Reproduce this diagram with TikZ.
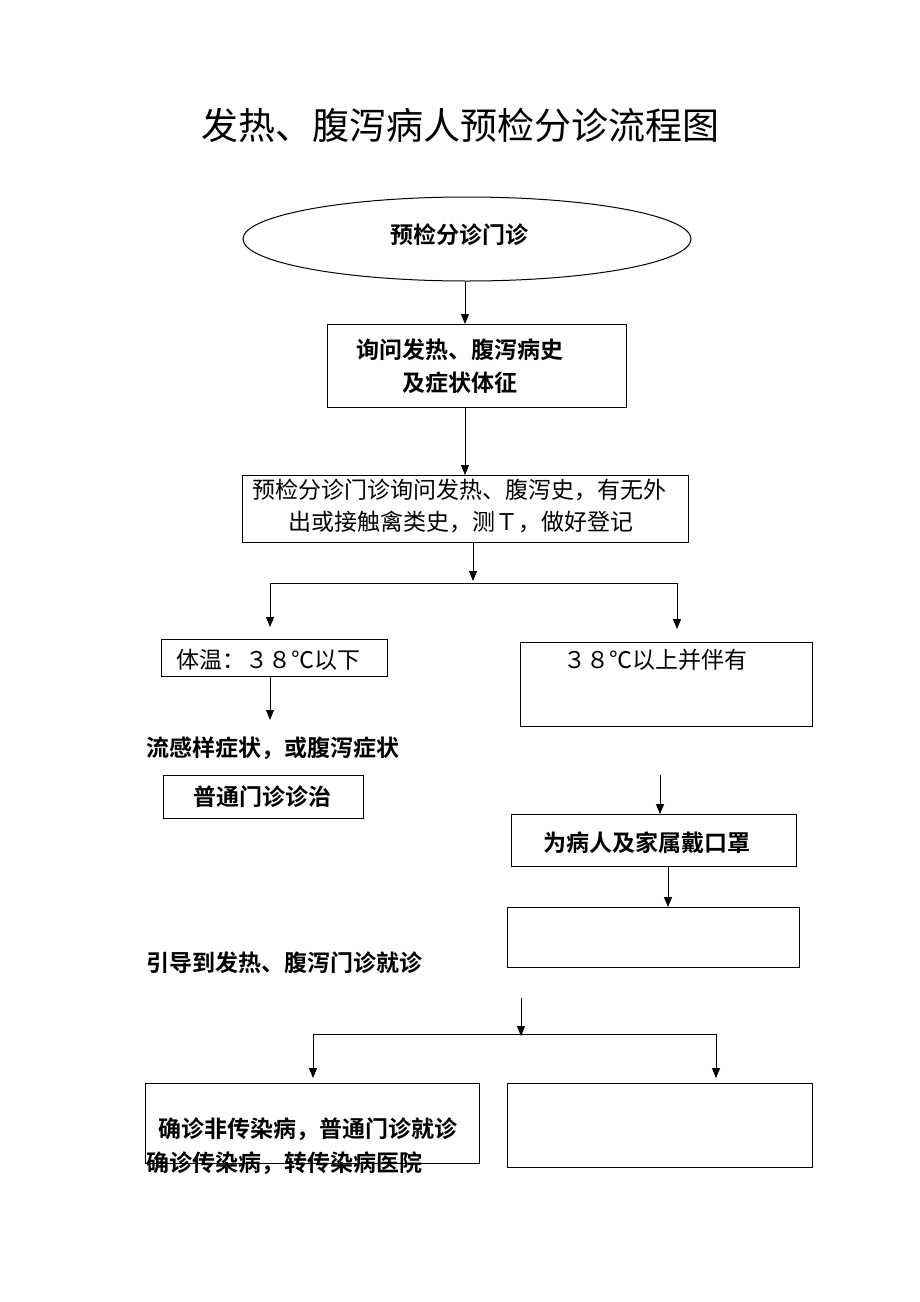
\documentclass[tikz,border=0pt]{standalone}
\usepackage{fontspec}
\newfontfamily\cjk{Noto Sans CJK SC}[BoldFont={Noto Sans CJK SC Bold}]
\usetikzlibrary{shapes.geometric,arrows.meta}
\begin{document}
\begin{tikzpicture}[x=1pt,y=-1pt,
  every node/.style={font=\cjk},
  box/.style={draw,line width=1pt,inner sep=0pt,anchor=north west},
  oval/.style={draw,ellipse,line width=1pt,inner sep=0pt,minimum width=448pt,minimum height=84pt},
  txt/.style={anchor=west,inner sep=0pt,font=\cjk\fontsize{23}{30}\selectfont},
  btxt/.style={anchor=west,inner sep=0pt,font=\cjk\bfseries\fontsize{23}{30}\selectfont},
  ln/.style={line width=1pt},
  arr/.style={line width=1pt,-{Triangle[width=8pt,length=10pt]}}]
\useasboundingbox (0,0) rectangle (920,1302);

% title
\node[anchor=center,inner sep=0pt,font=\cjk\fontsize{37}{40}\selectfont] (title) at (460,125) {发热、腹泻病人预检分诊流程图};

% ellipse
\node[oval] (b1) at (467,239) {};
\node[btxt] (t1) at (390,235) {预检分诊门诊};

% box 2
\node[box,minimum width=299pt,minimum height=83pt] (b2) at (327,324) {};
\node[btxt] (t2a) at (356,350) {询问发热、腹泻病史};
\node[btxt] (t2b) at (402,383) {及症状体征};

% box 3
\node[box,minimum width=446pt,minimum height=67pt] (b3) at (242,475) {};
\node[txt] (t3a) at (252,490) {预检分诊门诊询问发热、腹泻史，有无外};
\node[txt] (t3b) at (288,522) {出或接触禽类史，测Ｔ，做好登记};

% split 1
\coordinate (a1) at (465,0);
\draw[arr] (b1.south -| a1) -- (b2.north -| a1);
\draw[arr] (b2.south -| a1) -- (b3.north -| a1);
\coordinate (j1) at (473,581);
\coordinate (jL) at (270,583);
\coordinate (jR) at (677,583);
\coordinate (eL) at (270,627);
\coordinate (eR) at (677,629);
\draw[arr] (b3.south -| j1) -- (j1);
\draw[ln] (jL) -- (jR);
\draw[arr] (jL) -- (eL);
\draw[arr] (jR) -- (eR);

% left branch
\node[box,minimum width=226pt,minimum height=37pt] (b4) at (161,639) {};
\node[txt] (t4) at (176,660) {体温：３８℃以下};
\coordinate (e4) at (270,720);
\draw[arr] (b4.south -| e4) -- (e4);
\node[btxt] (t5) at (146,748) {流感样症状，或腹泻症状};
\node[box,minimum width=200pt,minimum height=43pt] (b5) at (163,775) {};
\node[btxt] (t6) at (193,797) {普通门诊诊治};

% right branch
\node[box,minimum width=292pt,minimum height=84pt] (b6) at (520,642) {};
\node[txt] (t7) at (563,660) {３８℃以上并伴有};
\coordinate (s7) at (660,775);
\node[box,minimum width=285pt,minimum height=52pt] (b7) at (511,814) {};
\draw[arr] (s7) -- (b7.north -| s7);
\node[btxt] (t8) at (543,843) {为病人及家属戴口罩};
\node[box,minimum width=292pt,minimum height=60pt] (b8) at (507,907) {};
\coordinate (a8) at (668,0);
\draw[arr] (b7.south -| a8) -- (b8.north -| a8);
\node[btxt] (t9) at (146,963) {引导到发热、腹泻门诊就诊};

% split 2
\coordinate (s2) at (521,998);
\coordinate (j2) at (521,1036);
\coordinate (kL) at (313,1034);
\coordinate (kR) at (716,1034);
\coordinate (fL) at (313,1078);
\coordinate (fR) at (716,1078);
\draw[arr] (s2) -- (j2);
\draw[ln] (kL) -- (kR);
\draw[arr] (kL) -- (fL);
\draw[arr] (kR) -- (fR);

\node[box,minimum width=334pt,minimum height=80pt] (b9) at (145,1083) {};
\node[btxt] (t10) at (158,1129) {确诊非传染病，普通门诊就诊};
\node[btxt] (t11) at (146,1163) {确诊传染病，转传染病医院};
\node[box,minimum width=305pt,minimum height=84pt] (b10) at (507,1083) {};
\end{tikzpicture}
\end{document}
